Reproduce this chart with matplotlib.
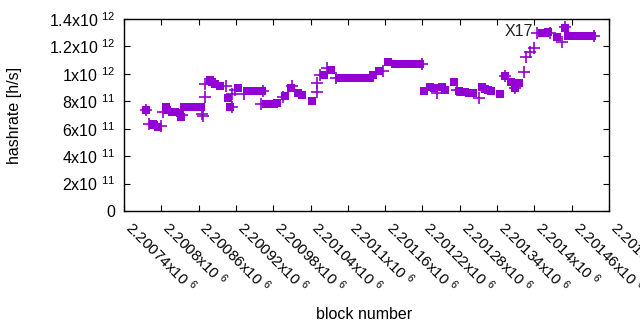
import numpy as np
import matplotlib
matplotlib.use('Agg')
import matplotlib.pyplot as plt

plt.rcParams['font.family'] = ['Liberation Sans', 'DejaVu Sans']
plt.rcParams['mathtext.default'] = 'regular'

# filled-square points (block, hashrate)
sq_block = [2200775, 2200786, 2200789, 2200795, 2200807, 2200809, 2200817, 2200822, 2200830, 2200831,
            2200836, 2200841, 2200846, 2200851, 2200856, 2200861, 2200864,
            2200878, 2200882, 2200886, 2200894, 2200907, 2200911, 2200924,
            2200938, 2200943, 2200948, 2200953, 2200958, 2200962,
            2200968, 2200973, 2200978, 2200982, 2200986, 2200999, 2201008, 2201020, 2201026, 2201043,
            2201061, 2201073,
            2201085, 2201090, 2201095, 2201100, 2201105, 2201110, 2201115, 2201120, 2201125, 2201130, 2201135,
            2201140, 2201150, 2201164,
            2201176, 2201181, 2201186, 2201191, 2201196, 2201201, 2201206, 2201211, 2201216,
            2201223, 2201232, 2201239, 2201251, 2201256, 2201270, 2201278, 2201284, 2201288, 2201295, 2201302,
            2201315, 2201321, 2201325, 2201330, 2201345, 2201353, 2201362, 2201369, 2201375,
            2201412, 2201417, 2201422, 2201436, 2201449,
            2201454, 2201459, 2201464, 2201469, 2201474, 2201479, 2201484, 2201489, 2201492]
sq_hash = [7.36, 6.34, 6.27, 6.16, 7.56, 7.36, 7.24, 7.24, 7.12, 6.88,
           7.56, 7.56, 7.56, 7.56, 7.56, 7.56, 7.56,
           9.55, 9.43, 9.24, 9.11, 8.22, 7.60, 8.95,
           8.75, 8.75, 8.75, 8.75, 8.75, 8.75,
           7.78, 7.78, 7.78, 7.78, 7.90, 8.41, 8.95, 8.58, 8.44, 8.02,
           9.92, 10.28,
           9.68, 9.68, 9.68, 9.68, 9.68, 9.68, 9.68, 9.68, 9.68, 9.68, 9.68,
           9.95, 10.21, 10.84,
           10.72, 10.72, 10.72, 10.72, 10.72, 10.72, 10.72, 10.72, 10.72,
           8.77, 9.06, 8.97, 9.06, 8.80, 9.38, 8.77, 8.71, 8.66, 8.60, 8.58,
           9.06, 8.90, 8.82, 8.77, 8.53, 9.84, 9.44, 8.99, 9.31,
           12.96, 12.98, 13.03, 12.67, 13.38,
           12.76, 12.76, 12.76, 12.76, 12.76, 12.76, 12.76, 12.76, 12.76]

# plus points (block, hashrate)
pl_block = [2200775, 2200780, 2200800, 2200802, 2200833, 2200865, 2200867, 2200870, 2200871,
            2200904, 2200913, 2200914, 2200918, 2200933, 2200964, 2200961, 2200996, 2201010,
            2201050, 2201051, 2201055, 2201066, 2201081, 2201157, 2201219, 2201243, 2201276,
            2201311, 2201353, 2201369, 2201383, 2201387, 2201393, 2201399, 2201404, 2201425,
            2201444, 2201449, 2201496]
pl_hash = [7.36, 6.34, 6.20, 7.24, 7.00, 7.09, 6.95, 9.24, 8.29,
           9.11, 7.56, 8.51, 8.82, 8.53, 8.75, 7.78, 8.33, 9.11,
           9.33, 8.68, 9.92, 10.43, 9.68, 10.21, 10.72, 8.58, 8.82,
           8.22, 9.87, 8.95, 10.11, 11.23, 11.63, 11.89, 12.96, 12.96,
           12.32, 13.44, 12.76]

x_ticks = np.arange(2200740, 2201521, 60)
y_ticks = np.arange(0, 1.41e12, 2e11)

color = '#9400D3'

fig = plt.figure(figsize=(6.4, 3.3), dpi=100)
ax = fig.add_axes([124 / 640, 1 - 211 / 330, (609 - 124) / 640, (211 - 19) / 330])

ax.plot(pl_block, np.array(pl_hash) * 1e11, '+', color=color, ms=9, mew=1.2)
ax.plot(sq_block, np.array(sq_hash) * 1e11, 's', color=color, ms=5.4, mew=0)

ax.text(2201397, 1.31e12, 'X17', ha='right', va='center', fontsize=11.5, color='#222222')

ax.set_xlim(2200740, 2201520)
ax.set_ylim(0, 1.4e12)


def xlab(v):
    return '%gx10 $^{6}$' % (v / 1e6)


def ylab(v):
    if v == 0:
        return '0'
    e = int(np.floor(np.log10(v)))
    return '%gx10 $^{%d}$' % (v / 10 ** e, e)


ax.set_xticks(x_ticks)
ax.set_xticklabels([xlab(v) for v in x_ticks], rotation=-45, ha='left', va='baseline',
                   rotation_mode='anchor', fontsize=11)
ax.set_yticks(y_ticks)
ax.set_yticklabels([ylab(v) for v in y_ticks], fontsize=11.5)
ax.tick_params(direction='in', top=True, right=True, length=4, width=0.8, pad=6)
ax.tick_params(axis='x', pad=13)
for s in ax.spines.values():
    s.set_linewidth(1)

ax.set_xlabel('block number', fontsize=11.5)
ax.xaxis.set_label_coords(0.495, -0.5)
ax.set_ylabel('hashrate [h/s]', fontsize=11.5)
ax.yaxis.set_label_coords(-0.21, 0.5)

fig.savefig('out.png', dpi=100)
